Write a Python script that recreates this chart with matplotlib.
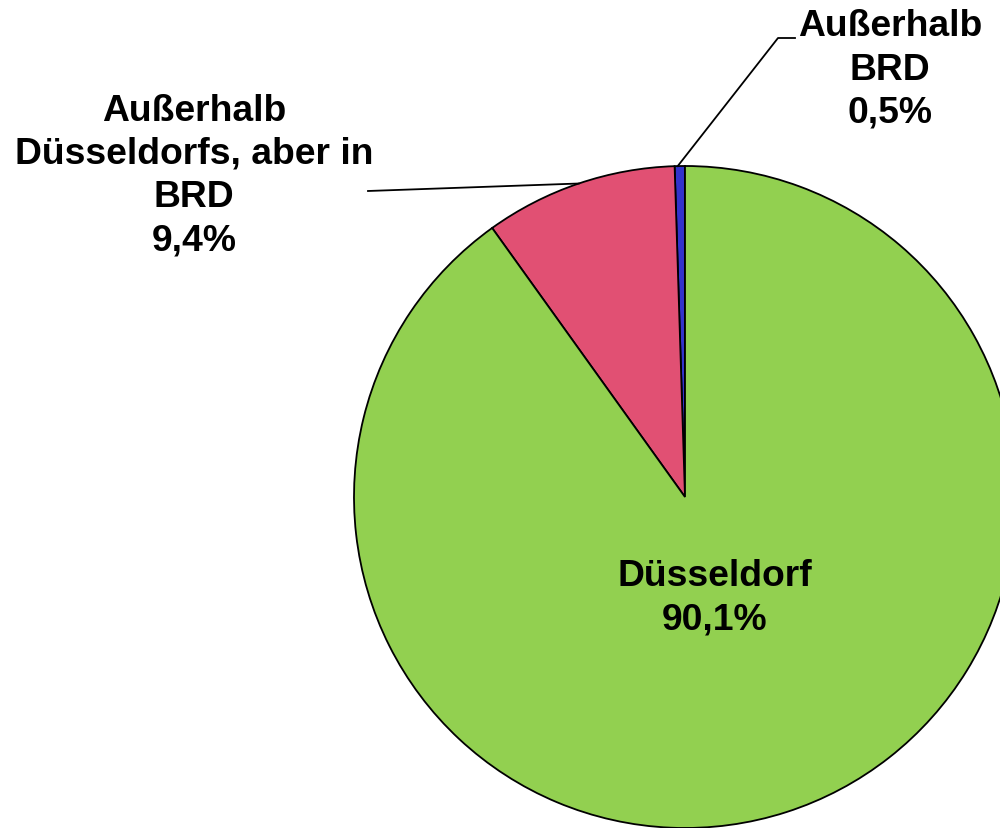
import numpy as np
import matplotlib
matplotlib.use("Agg")
import matplotlib.pyplot as plt

labels = ["Außerhalb\nBRD", "Außerhalb\nDüsseldorfs, aber in\nBRD", "Düsseldorf"]
values = [0.5, 9.4, 90.1]
value_text = ["0,5%", "9,4%", "90,1%"]
colors = ["#3333CC", "#E15073", "#92D050"]

W, H = 1000, 829
fig = plt.figure(figsize=(W / 100, H / 100), dpi=100)
fig.patch.set_facecolor("white")

# pie centre (685, 498) px from top, radius 331 px
cx, cy, r = 685, 498, 331
ax = fig.add_axes([(cx - r) / W, (H - cy - r) / H, 2 * r / W, 2 * r / H])

wedges, _ = ax.pie(values, colors=colors, startangle=90, counterclock=True,
                   radius=1.0, wedgeprops=dict(edgecolor="black", linewidth=1.3))
for w in wedges:
    w.set_clip_on(False)
ax.set_xlim(-1, 1)
ax.set_ylim(-1, 1)
ax.set_aspect("equal")
ax.axis("off")

font = dict(family=["Liberation Sans", "DejaVu Sans"], fontweight="bold",
            fontsize=26.8, color="black", linespacing=1.3)

def fx(x):
    return x / W

def fy(y):
    return 1 - y / H

# Düsseldorf label inside slice
fig.text(fx(715), fy(598), labels[2] + "\n" + value_text[2], ha="center", va="center", **font)

# left label
fig.text(fx(194), fy(176), labels[1] + "\n" + value_text[1], ha="center", va="center", **font)

# top right label
fig.text(fx(890), fy(70), labels[0] + "\n" + value_text[0], ha="center", va="center", **font)

# leader lines: endpoints on wedge edges computed from data
def edge_point(idx, frac=0.5, rr=1.0):
    w = wedges[idx]
    a = np.deg2rad(w.theta1 + frac * (w.theta2 - w.theta1))
    return rr * np.cos(a), rr * np.sin(a)

inv = ax.transData.inverted()
def px_to_data(x, y):
    return inv.transform(fig.transFigure.transform((fx(x), fy(y))))

# left leader
p_end = edge_point(1, 0.5)
p_start = px_to_data(368, 192)
ax.plot([p_start[0], p_end[0]], [p_start[1], p_end[1]], color="black", lw=1.3, clip_on=False)

# top leader
p_end = edge_point(0, 0.7)
p_mid = px_to_data(778, 39)
p_start = px_to_data(795, 39)
ax.plot([p_start[0], p_mid[0], p_end[0]], [p_start[1], p_mid[1], p_end[1]],
        color="black", lw=1.3, clip_on=False)

fig.savefig("out.png", dpi=100)
